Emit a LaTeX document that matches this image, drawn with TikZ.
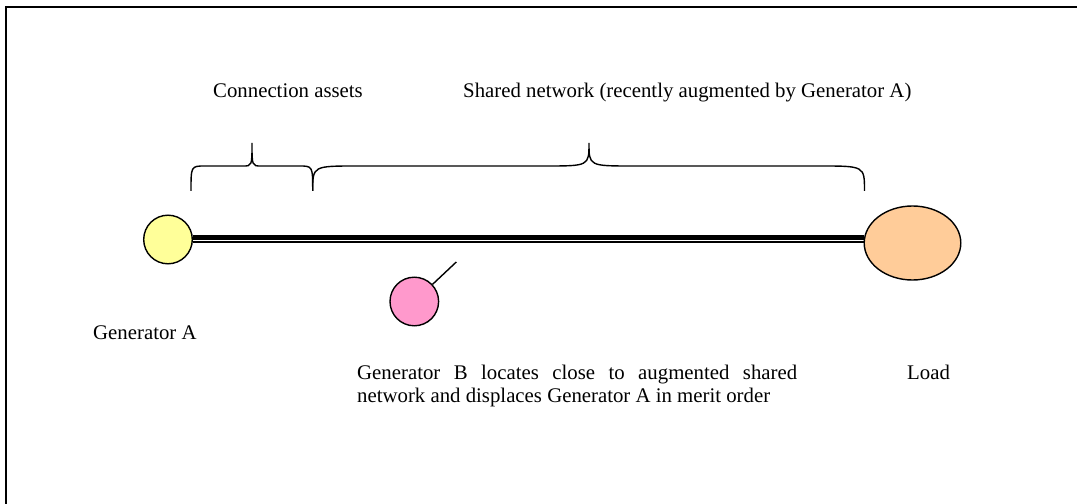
\documentclass[tikz,border=0pt]{standalone}
\usepackage{fontspec}
\setmainfont{Liberation Serif}
\usetikzlibrary{shapes.geometric}
\definecolor{yellowc}{HTML}{FFFF99}
\definecolor{pinkc}{HTML}{FF99CC}
\definecolor{orangec}{HTML}{FFCC99}
\tikzset{
  bus/.style={circle, draw, inner sep=0pt, minimum size=48.6bp, line width=1.4bp},
  lbl/.style={inner sep=0pt, font=\fontsize{20.8bp}{23bp}\selectfont},
  brace/.style={line width=1.4bp},
  frame/.style={line width=2bp}
}
\begin{document}
\begin{tikzpicture}[x=1bp,y=-1bp]
\useasboundingbox (0,0) rectangle (1077,504);
% frame (open to right and bottom)
\draw[frame] (6,504) -- (6,7) -- (1077,7);

% nodes
\node[bus, fill=yellowc] (genA) at (168,239.5) {};
\node[ellipse, draw, inner sep=0pt, minimum width=96.6bp, minimum height=74bp, line width=1.4bp, fill=orangec] (load) at (912.5,243) {};
\node[bus, fill=pinkc] (genB) at (414.3,301.5) {};
\coordinate (tail) at (456.3,262);

% thick-thin line
\draw[line width=4.7bp] ([yshift=1.8bp]genA.east) -- ([yshift=1.8bp]genA.east -| load.west);
\draw[line width=1.6bp] ([yshift=-2.3bp]genA.east) -- ([yshift=-2.3bp]genA.east -| load.west);
\draw[line width=1.4bp] (genB) -- (tail);

% small brace
\draw[brace] (191,191) .. controls (191,166) .. (205,166) -- (243,166)
  .. controls (252,166) .. (252,143) .. controls (252,166) .. (261,166)
  -- (299,166) .. controls (312.7,166) .. (312.7,191);
% big brace
\draw[brace] (312.7,191) .. controls (312.7,166) .. (357,166) -- (545,166)
  .. controls (589,166) .. (589,143) .. controls (589,166) .. (633,166)
  -- (820,166) .. controls (864.5,166) .. (864.5,191);

% labels
\node[lbl, anchor=base west] (conn) at (213,98) {Connection assets};
\node[lbl, anchor=base west] (shared) at (463,98) {Shared network (recently augmented by Generator A)};
\node[lbl, anchor=base west] (labA) at (93,340) {Generator A};
\node[lbl, anchor=base west, text width=440bp, align=justify] (labB) at (357,380)
  {Generator B locates close to augmented shared\linebreak network and displaces Generator A in merit order};
\node[lbl, anchor=base west] (labL) at (907,380) {Load};
\end{tikzpicture}
\end{document}
